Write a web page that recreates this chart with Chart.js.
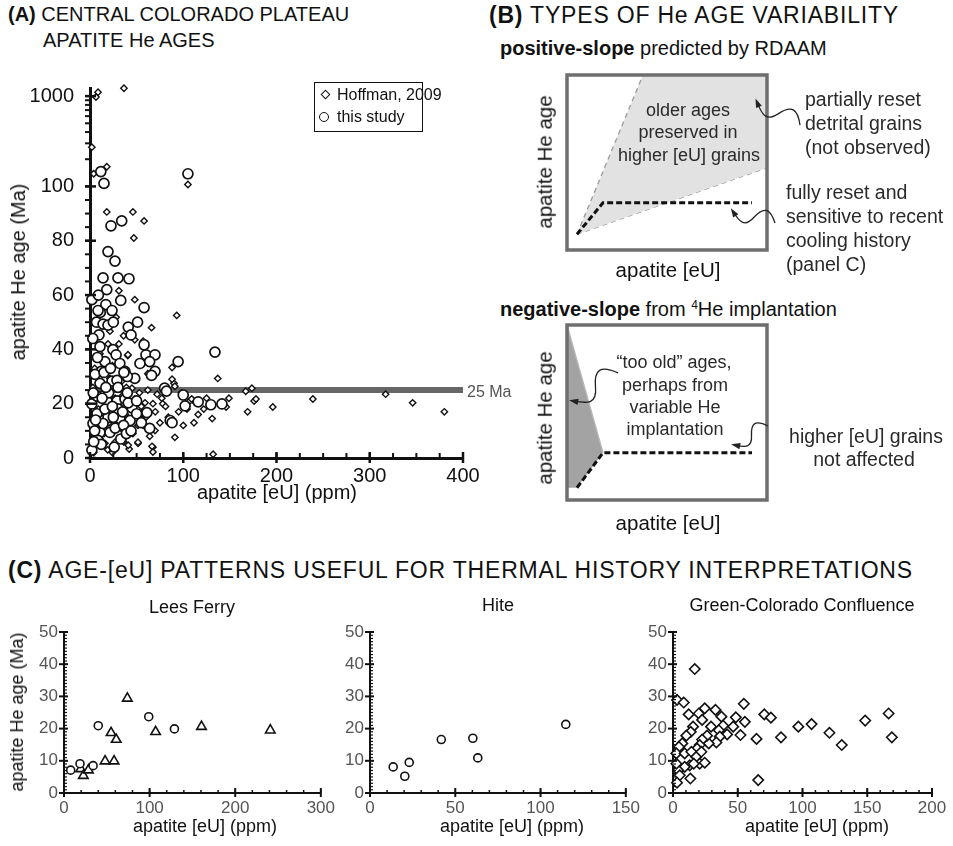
<!DOCTYPE html>
<html>
<head>
<meta charset="utf-8">
<script src="https://cdn.jsdelivr.net/npm/chart.js@4.4.1/dist/chart.umd.min.js"></script>
<style>
  body { margin: 0; background: #fff; }
  #page { position: relative; width: 953px; height: 846px; overflow: hidden; font-family: "Liberation Sans", Arial, sans-serif; color: #111; }
  #page canvas { position: absolute; }
  .t { position: absolute; white-space: nowrap; line-height: 1; transform: translateY(-50%); }
  .c { transform: translate(-50%, -50%); }
  .rot { transform: translate(-50%, -50%) rotate(-90deg); }
  .hd { font-size: 23px; letter-spacing: 0.8px; }
  .sub { font-size: 20px; }
  .note { font-size: 19.5px; color: #2a2a2a; }
  .inner { font-size: 18px; color: #2a2a2a; }
  .ax { font-size: 20.5px; }
  .legend { position: absolute; left: 314px; top: 82px; width: 107px; height: 48px; border: 1px solid #111; background: #fff; font-size: 16px; }
  .mk-d { position: absolute; width: 5px; height: 5px; border: 1.5px solid #111; transform: rotate(45deg); }
  .mk-c { position: absolute; width: 8px; height: 8px; border: 1.8px solid #111; border-radius: 50%; }
</style>
</head>
<body>
<div id="page">
  <div class="t" style="left:8px;top:14px;font-size:20px"><b>(A)</b> CENTRAL COLORADO PLATEAU</div>
  <div class="t" style="left:43px;top:40px;font-size:20px">APATITE He AGES</div>
  <div class="t hd" style="left:489px;top:15px"><b>(B)</b> TYPES OF He AGE VARIABILITY</div>
  <div class="t sub" style="left:500px;top:48px"><b>positive-slope</b> predicted by RDAAM</div>
  <div class="t sub" style="left:500px;top:309px"><b>negative-slope</b> from <sup style="font-size:12px">4</sup>He implantation</div>
  <div class="t hd" style="left:8px;top:570px"><b>(C)</b> AGE-[eU] PATTERNS USEFUL FOR THERMAL HISTORY INTERPRETATIONS</div>

  <canvas id="chartA" width="490" height="440" style="left:0;top:60px"></canvas>
  <div class="t rot" style="left:18px;top:272px;font-size:20px">apatite He age (Ma)</div>
  <div class="t c" style="left:277px;top:492px;font-size:20px">apatite [eU] (ppm)</div>
  <div class="t" style="left:467px;top:392px;font-size:16px;color:#555">25 Ma</div>
  <div class="legend">
    <div class="mk-d" style="left:7px;top:8px"></div>
    <div class="t" style="left:22px;top:12px">Hoffman, 2009</div>
    <div class="mk-c" style="left:4px;top:29px"></div>
    <div class="t" style="left:22px;top:34px">this study</div>
  </div>

  <canvas id="chartB1" width="470" height="230" style="left:480px;top:60px"></canvas>
  <div class="t rot ax" style="left:545px;top:162px">apatite He age</div>
  <div class="t c ax" style="left:668px;top:270px">apatite [eU]</div>
  <div class="t c inner" style="left:688px;top:110px">older ages</div>
  <div class="t c inner" style="left:688px;top:132px">preserved in</div>
  <div class="t c inner" style="left:689px;top:155px">higher [eU] grains</div>
  <div class="t note" style="left:805px;top:100px">partially reset</div>
  <div class="t note" style="left:805px;top:124px">detrital grains</div>
  <div class="t note" style="left:805px;top:148px">(not observed)</div>
  <div class="t note" style="left:786px;top:193px">fully reset and</div>
  <div class="t note" style="left:786px;top:217px">sensitive to recent</div>
  <div class="t note" style="left:786px;top:241px">cooling history</div>
  <div class="t note" style="left:786px;top:265px">(panel C)</div>

  <canvas id="chartB2" width="470" height="230" style="left:480px;top:310px"></canvas>
  <div class="t rot ax" style="left:545px;top:418px">apatite He age</div>
  <div class="t c ax" style="left:668px;top:523px">apatite [eU]</div>
  <div class="t c inner" style="left:674px;top:362px">“too old” ages,</div>
  <div class="t c inner" style="left:675px;top:385px">perhaps from</div>
  <div class="t c inner" style="left:675px;top:407px">variable He</div>
  <div class="t c inner" style="left:675px;top:429px">implantation</div>
  <div class="t c note" style="left:866px;top:437px">higher [eU] grains</div>
  <div class="t c note" style="left:864px;top:460px">not affected</div>

  <canvas id="chartC1" width="340" height="256" style="left:0;top:590px"></canvas>
  <canvas id="chartC2" width="320" height="256" style="left:325px;top:590px"></canvas>
  <canvas id="chartC3" width="325" height="256" style="left:628px;top:590px"></canvas>
  <div class="t c" style="left:192px;top:607px;font-size:18px">Lees Ferry</div>
  <div class="t c" style="left:498px;top:605px;font-size:18px">Hite</div>
  <div class="t c" style="left:802px;top:605px;font-size:18px">Green-Colorado Confluence</div>
  <div class="t rot" style="left:17px;top:712px;font-size:18px">apatite He age (Ma)</div>
  <div class="t c" style="left:205px;top:826px;font-size:18px">apatite [eU] (ppm)</div>
  <div class="t c" style="left:512px;top:826px;font-size:18px">apatite [eU] (ppm)</div>
  <div class="t c" style="left:817px;top:826px;font-size:18px">apatite [eU] (ppm)</div>
</div>

<script>
// ---- DATA: [eU ppm, age Ma] ----
// panel A, Hoffman 2009 (diamonds)
const hoffmanPts = [
  [18, 90.6], [46, 90.6], [58, 87.3], [47, 81], [31, 61.6], [48, 58.3], [93, 52.5], [66, 48],
  [48, 43.5], [57, 43], [40.5, 37.7], [88, 33.3], [90, 27.5], [88, 29], [110, 21.4], [111.5, 13],
  [91, 7.6], [67.5, 4], [67.5, 2.2], [51.5, 5.4], [42, 3.3], [137, 29.3], [107, 21], [122, 18],
  [146, 18.8], [149, 22], [131, 14.5], [132, 1.4], [167, 24.6], [173.6, 25.7], [176, 21], [178, 21.7],
  [169, 17], [196, 18.8], [239, 21.7], [317, 23.5], [346, 20.3], [380, 17], [28, 51.8], [21.4, 46.7],
  [19.3, 42], [10.7, 38.4], [40.7, 38], [91, 26.4], [72, 23.5], [77, 22], [67.5, 20], [59, 20.3],
  [78, 20], [51.5, 12], [69.7, 10.1], [51.5, 5.8], [41, 4.7], [66.5, 4.3], [30, 25.7], [34, 28.3],
  [21.4, 29.3], [45, 25.7], [48, 21.7], [55.7, 16.3], [37.5, 7.6], [26.8, 5.8], [16, 5.4], [109, 21.7],
  [3, 26], [6, 22], [9, 18], [12, 15], [14, 24], [17, 19], [20, 13], [23, 17], [25, 10], [27, 22],
  [29, 14], [32, 19], [33, 11], [35, 23], [38, 16], [39, 26], [42, 20], [44, 14], [46, 9], [49, 17],
  [53, 24], [55, 19], [57, 12], [60, 15], [62, 25], [64, 8], [8, 11], [11, 7], [15, 9], [19, 3],
  [24, 2], [36, 6], [5, 33], [13, 31], [24, 34], [31, 42], [36, 45], [54, 35], [62, 31], [70, 17],
  [75, 13], [81, 19], [84, 15], [95, 17], [98, 24], [100, 12], [104, 18], [116, 16], [125, 22],
  [4, 2], [7, 5],
  [8.6, 1104], [6.4, 976], [36.4, 1222], [2, 272], [18, 165], [4, 138], [105, 105]
];
// panel A, this study (circles)
const studyPts = [
  [22.5, 85.5], [34, 87.3], [19.3, 76], [26.8, 72.5], [14, 66.3], [30, 66.3], [41.8, 66], [2, 58.3],
  [17, 56.5], [33, 58], [58, 55.4], [11, 53.6], [23.6, 54.3], [8.6, 54.3], [51, 50], [7, 50],
  [14, 49.3], [19.3, 48.9], [41, 48.2], [44, 45.3], [9.6, 45.3], [24.6, 39.9], [10.7, 41], [58, 41.7],
  [28, 38], [60, 38], [69.7, 38], [16, 35.5], [32, 34.8], [53.6, 34.8], [64, 35.5], [94.5, 35.5],
  [12, 31.9], [37.5, 31.9], [48, 29.3], [69.7, 31.9], [66, 30.4], [80, 25.7], [100, 23.2], [102, 19.2],
  [2, 19.9], [10.7, 27.5], [23.6, 28.3], [40, 30], [7.5, 22.8], [18.2, 21], [29, 21], [37.5, 21.7],
  [45, 18.5], [61, 16.7], [7.5, 16.3], [19.3, 14.9], [32, 14.5], [43, 13.8], [64, 10.9], [10.7, 9.4],
  [21.4, 9.4], [8.6, 6.5], [2, 2.9], [14, 12.7], [3.2, 12.7], [30, 18.1], [50, 16.3], [82, 24.6],
  [86, 13.8], [88, 13], [134, 39], [116, 20.7], [129.6, 19.6], [141.5, 19.9], [5.4, 30.8], [15, 31.5],
  [36.4, 31.5], [28.9, 28.6], [3.5, 24], [41, 20.3], [50, 21], [5, 10], [12, 5], [16, 18], [20, 24],
  [25, 15], [27, 11], [33, 7], [36, 12], [39, 9], [4, 6], [6, 14], [13, 22], [17, 26], [24, 19],
  [26, 4], [30, 26], [35, 17], [40, 24], [44, 10], [55, 13], [22, 33], [8, 37], [3, 44], [18, 62],
  [25, 50], [9, 60],
  [11.6, 146], [15, 108], [105, 138]
];
const refAge = 25;           // Ma, horizontal reference line
const refSpan = [0, 400];    // ppm

// panel C
const leesCircles = [[7.8, 7.1], [18.7, 9.1], [34, 8.5], [40, 20.9], [99, 23.7], [129, 19.9]];
const leesTriangles = [[19.5, 7.5], [22.6, 5.4], [28.5, 7.1], [48, 9.9], [58.5, 9.9], [55, 18.7],
  [61, 16.6], [74, 29.4], [107, 19], [160.6, 20.6], [241, 19.5]];
const hitePts = [[13.6, 8.1], [20.4, 5.2], [23, 9.5], [41.8, 16.6], [60.3, 17], [63.2, 10.9], [114.8, 21.3]];
const greenPts = [
  [16.8, 38.5], [3.1, 28.9], [8.3, 28.1], [12.1, 24.4], [19.9, 24.7], [24.5, 26.3], [32.8, 25.8],
  [22.5, 22.7], [29.4, 20.6], [37.4, 23.7], [38.7, 20.9], [41.8, 18.2], [35.4, 19.5], [36.1, 17.5],
  [33.5, 15.7], [27.6, 15.4], [26.3, 17.8], [22.5, 16.6], [20.6, 14.9], [18.6, 13.8], [15.5, 20.6],
  [13.7, 19], [10.3, 17.8], [7.2, 15.4], [4.6, 14.3], [2.6, 12.3], [9, 12.3], [14.2, 12.8], [18, 11.2],
  [21.9, 12.8], [20.6, 9.1], [24.5, 9.4], [12.9, 8.6], [9, 8.1], [3.9, 7.1], [5.2, 5.5], [3.1, 3.2],
  [13.4, 4.5], [16, 9.1], [2.6, 9.1], [48.5, 23.5], [46.5, 20.6], [54.7, 27.7], [55.5, 22.1],
  [52.1, 18], [64.5, 16.8], [65.8, 4], [70.5, 24.4], [75.6, 23.4], [83.4, 17.3], [96.8, 20.6],
  [107, 21.4], [120.8, 18.7], [130.3, 14.9], [148.4, 22.5], [166.5, 24.7], [169, 17.3]
];

// panel B schematics (arbitrary units 0..1)
const posUpper = [[0.05, 0.09], [0.38, 1], [1, 1]];
const posLower = [[0.05, 0.09], [1, 0.47]];
const posReset = [[0.05, 0.09], [0.18, 0.27], [0.925, 0.27]];
const negUpper = [[0, 1], [0.18, 0.27]];
const negLower = [[0, 0.07], [0.05, 0.07], [0.18, 0.27]];
const negReset = [[0.05, 0.07], [0.18, 0.27], [0.925, 0.27]];

// ---- helpers ----
const FONT = '"Liberation Sans", Arial, sans-serif';
const xy = arr => arr.map(p => ({ x: p[0], y: p[1] }));

function marks(min, max, step, a, b, w) {
  const out = [];
  for (let v = min; v <= max + 1e-9; v += step) out.push({ v, a, b, w });
  return out;
}

// tick marks drawn at scale positions (a = inward length, b = outward length)
function tickPlugin(axes) {
  return {
    id: 'tickMarks',
    afterDraw(chart) {
      const ctx = chart.ctx;
      axes.forEach(ax => {
        const s = chart.scales[ax.id];
        ctx.save();
        ctx.strokeStyle = '#111';
        ax.marks.forEach(m => {
          const p = s.getPixelForValue(m.v);
          ctx.lineWidth = m.w;
          ctx.beginPath();
          if (s.isHorizontal()) {
            ctx.moveTo(p, s.top - m.a);
            ctx.lineTo(p, s.top + m.b);
          } else {
            ctx.moveTo(s.right + m.a, p);
            ctx.lineTo(s.right - m.b, p);
          }
          ctx.stroke();
        });
        ctx.restore();
      });
    }
  };
}

// grey frame + squiggly arrows for the schematics
function framePlugin(arrows) {
  return {
    id: 'frame',
    afterDatasetsDraw(chart) {
      const { ctx, chartArea: ca } = chart;
      const sx = chart.scales.x, sy = chart.scales.y;
      ctx.save();
      ctx.strokeStyle = '#6e6e6e';
      ctx.lineWidth = 3.5;
      ctx.strokeRect(ca.left, ca.top, ca.width, ca.height);
      ctx.strokeStyle = '#222';
      ctx.fillStyle = '#222';
      ctx.lineWidth = 1.3;
      arrows.forEach(a => {
        const x0 = sx.getPixelForValue(a.from[0]), y0 = sy.getPixelForValue(a.from[1]);
        const x1 = sx.getPixelForValue(a.to[0]), y1 = sy.getPixelForValue(a.to[1]);
        const dx = x1 - x0, dy = y1 - y0;
        const len = Math.hypot(dx, dy), nx = -dy / len, ny = dx / len;
        const w = a.wave * len;
        const c3x = x0 + dx * 0.8 - nx * w * 0.6, c3y = y0 + dy * 0.8 - ny * w * 0.6;
        ctx.beginPath();
        ctx.moveTo(x0, y0);
        ctx.bezierCurveTo(x0 + dx * 0.2 + nx * w, y0 + dy * 0.2 + ny * w,
                          x0 + dx * 0.35 + nx * w, y0 + dy * 0.35 + ny * w, x0 + dx * 0.5, y0 + dy * 0.5);
        ctx.bezierCurveTo(x0 + dx * 0.65 - nx * w, y0 + dy * 0.65 - ny * w, c3x, c3y, x1, y1);
        ctx.stroke();
        const ang = Math.atan2(y1 - c3y, x1 - c3x);
        ctx.beginPath();
        ctx.moveTo(x1 + Math.cos(ang) * 4, y1 + Math.sin(ang) * 4);
        ctx.lineTo(x1 + Math.cos(ang + 2.6) * 6, y1 + Math.sin(ang + 2.6) * 6);
        ctx.lineTo(x1 + Math.cos(ang - 2.6) * 6, y1 + Math.sin(ang - 2.6) * 6);
        ctx.closePath();
        ctx.fill();
      });
      ctx.restore();
    }
  };
}

Chart.defaults.font.family = FONT;
Chart.defaults.animation = false;
Chart.defaults.responsive = false;
Chart.defaults.plugins.legend.display = false;
Chart.defaults.plugins.tooltip.enabled = false;

const noGrid = { display: false, drawTicks: false };
const axisBorder = w => ({ display: true, color: '#111', width: w });

// ---- panel A ----
const isLow = p => p[1] <= 100;
const markerD = { pointStyle: 'rectRot', pointRadius: 3.2, borderColor: '#111', backgroundColor: '#fff', borderWidth: 1.4, showLine: false };
const markerC = { pointStyle: 'circle', pointRadius: 5, borderColor: '#111', backgroundColor: '#fff', borderWidth: 1.7, showLine: false };

new Chart(document.getElementById('chartA'), {
  type: 'scatter',
  data: {
    datasets: [
      Object.assign({ label: 'this study', data: xy(studyPts.filter(isLow)), yAxisID: 'y', order: 0 }, markerC),
      Object.assign({ label: 'this study old', data: xy(studyPts.filter(p => !isLow(p))), yAxisID: 'yLog', order: 0 }, markerC),
      Object.assign({ label: 'Hoffman, 2009', data: xy(hoffmanPts.filter(isLow)), yAxisID: 'y', order: 1 }, markerD),
      Object.assign({ label: 'Hoffman old', data: xy(hoffmanPts.filter(p => !isLow(p))), yAxisID: 'yLog', order: 1 }, markerD),
      { label: '25 Ma', data: refSpan.map(x => ({ x, y: refAge })), yAxisID: 'y', showLine: true,
        borderColor: '#666', borderWidth: 6, pointRadius: 0, order: 5 }
    ]
  },
  options: {
    clip: false,
    layout: { padding: { top: 22, right: 27, left: 0, bottom: 0 } },
    scales: {
      x: {
        type: 'linear', min: 0, max: 400,
        ticks: { stepSize: 100, color: '#111', font: { size: 20 }, padding: 6, maxRotation: 0 },
        grid: noGrid, border: axisBorder(3),
        afterFit: s => { s.height = 42; }
      },
      y: {
        type: 'linear', position: 'left', stack: 'age', stackWeight: 276, min: 0, max: 100,
        ticks: { stepSize: 20, color: '#111', font: { size: 20 }, padding: 16 },
        grid: noGrid, border: axisBorder(3),
        afterFit: s => { s.width = 90; }
      },
      yLog: {
        type: 'logarithmic', position: 'left', stack: 'age', stackWeight: 100, min: 100, max: 1230,
        afterBuildTicks: s => { s.ticks = [{ value: 1000 }]; },
        ticks: { color: '#111', font: { size: 20 }, padding: 16, callback: v => String(v) },
        grid: noGrid, border: axisBorder(3),
        afterFit: s => { s.width = 90; }
      }
    }
  },
  plugins: [tickPlugin([
    { id: 'x', marks: marks(0, 400, 25, 5, 0, 2).concat(marks(0, 400, 100, 6, 5, 2.5)) },
    { id: 'y', marks: marks(0, 100, 5, 0, 5, 2).concat(marks(0, 100, 20, 6, 5, 2.5)) },
    { id: 'yLog', marks: [200, 300, 400, 500, 600, 700, 800, 900].map(v => ({ v, a: 0, b: 5, w: 2 }))
        .concat([{ v: 1000, a: 6, b: 5, w: 2.5 }]) }
  ])]
});

// ---- panel B ----
function schematic(id, datasets, arrows) {
  new Chart(document.getElementById(id), {
    type: 'line',
    data: { datasets },
    options: {
      clip: false,
      layout: { padding: { left: 87, right: 183, top: 15, bottom: 40 } },
      scales: {
        x: { type: 'linear', min: 0, max: 1, display: false },
        y: { type: 'linear', min: 0, max: 1, display: false }
      },
      elements: { point: { radius: 0 }, line: { tension: 0 } }
    },
    plugins: [framePlugin(arrows)]
  });
}

schematic('chartB1', [
  { data: xy(posReset), borderColor: '#111', borderWidth: 3, borderDash: [6, 3], fill: false },
  { data: xy(posUpper), borderColor: '#9a9a9a', borderWidth: 1.3, borderDash: [5, 4], fill: 2, backgroundColor: '#e2e2e2' },
  { data: xy(posLower), borderColor: '#9a9a9a', borderWidth: 1.3, borderDash: [5, 4], fill: false }
], [
  { from: [1.165, 0.714], to: [0.95, 0.845], wave: 0.28 },
  { from: [1.04, 0.154], to: [0.83, 0.22], wave: 0.3 }
]);

schematic('chartB2', [
  { data: xy(negReset), borderColor: '#111', borderWidth: 3, borderDash: [6, 3], fill: false },
  { data: xy(negUpper), borderColor: '#b8b8b8', borderWidth: 1.3, fill: 2, backgroundColor: '#a3a3a3' },
  { data: xy(negLower), borderColor: 'rgba(0,0,0,0)', borderWidth: 0, fill: false }
], [
  { from: [0.255, 0.726], to: [0.03, 0.566], wave: 0.3 },
  { from: [1.005, 0.423], to: [0.84, 0.314], wave: 0.3 }
]);

// ---- panel C ----
function smallChart(id, datasets, xMax, xStep, xMinor, leftW, rightPad) {
  new Chart(document.getElementById(id), {
    type: 'scatter',
    data: { datasets },
    options: {
      clip: false,
      layout: { padding: { top: 42, right: rightPad, left: 0, bottom: 0 } },
      scales: {
        x: {
          type: 'linear', min: 0, max: xMax,
          ticks: { stepSize: xStep, color: '#555', font: { size: 17 }, padding: 5, maxRotation: 0 },
          grid: noGrid, border: axisBorder(2),
          afterFit: s => { s.height = 53; }
        },
        y: {
          type: 'linear', min: 0, max: 50,
          ticks: { stepSize: 10, color: '#555', font: { size: 17 }, padding: 6 },
          grid: noGrid, border: axisBorder(2),
          afterFit: s => { s.width = leftW; }
        }
      }
    },
    plugins: [tickPlugin([
      { id: 'x', marks: marks(0, xMax, xMinor, 3, 0, 1.5).concat(marks(0, xMax, xStep, 5, 4, 2)) },
      { id: 'y', marks: marks(0, 50, 1, 3, 0, 1.2).concat(marks(0, 50, 10, 4, 5, 2)) }
    ])]
  });
}

const cCircle = { pointStyle: 'circle', pointRadius: 4, borderColor: '#111', backgroundColor: '#fff', borderWidth: 1.6 };
const cTri = { pointStyle: 'triangle', pointRadius: 5.5, borderColor: '#111', backgroundColor: '#fff', borderWidth: 1.6 };
const cDia = { pointStyle: 'rectRot', pointRadius: 5.2, borderColor: '#111', backgroundColor: '#fff', borderWidth: 1.6 };

smallChart('chartC1', [
  Object.assign({ data: xy(leesCircles) }, cCircle),
  Object.assign({ data: xy(leesTriangles) }, cTri)
], 300, 100, 20, 64, 19);
smallChart('chartC2', [Object.assign({ data: xy(hitePts) }, cCircle)], 150, 50, 10, 45, 19);
smallChart('chartC3', [Object.assign({ data: xy(greenPts) }, cDia)], 200, 50, 10, 45, 21);
</script>
</body>
</html>
